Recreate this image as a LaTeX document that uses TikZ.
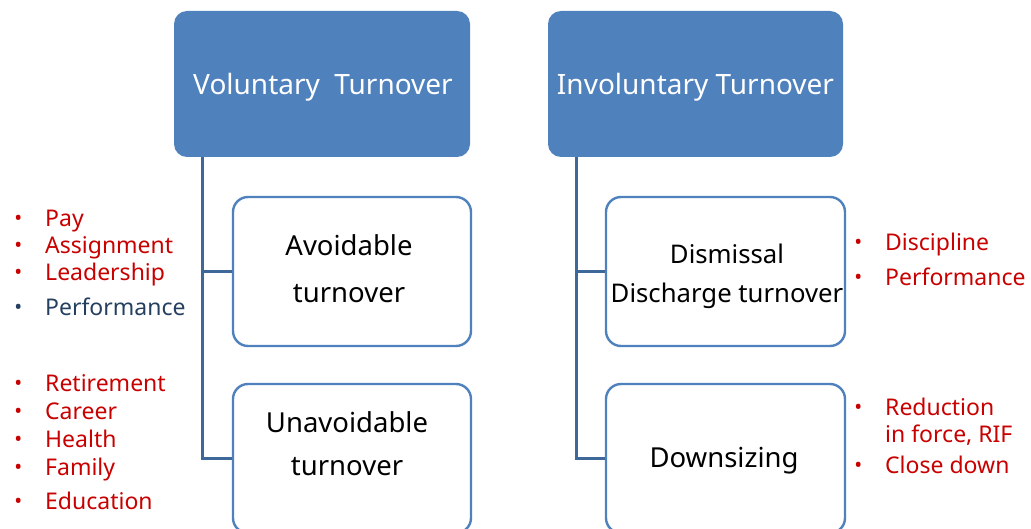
\documentclass[tikz,border=0pt]{standalone}
\usepackage{fontspec}
\setmainfont{Noto Sans}
\definecolor{hdrblue}{HTML}{4F81BD}
\definecolor{linkblue}{HTML}{3F689A}
\definecolor{itemred}{HTML}{C80000}
\definecolor{itemnavy}{HTML}{243F60}
\tikzset{
  hdrbox/.style={fill=hdrblue, draw=none, rounded corners=13pt, inner sep=0pt},
  hdrtext/.style={text=white, font=\fontsize{28}{32}\selectfont, inner sep=0pt},
  subbox/.style={fill=white, draw=hdrblue, line width=2.4pt, rounded corners=15pt, inner sep=0pt},
  subtext/.style={text=black, align=center, inner sep=0pt},
  link/.style={draw=linkblue, line width=2.8pt},
  itemtext/.style={anchor=mid west, inner sep=0pt, font=\fontsize{23}{27}\selectfont},
  reditem/.style={itemtext, text=itemred},
  navyitem/.style={itemtext, text=itemnavy},
}
\newcommand{\bul}{\llap{{\fontsize{21}{21}\selectfont\raisebox{0.1ex}{•}}\hspace{23pt}}}
\begin{document}
\begin{tikzpicture}[x=1pt, y=-1pt]
  \useasboundingbox (0,0) rectangle (1031,529);
  \clip (0,0) rectangle (1031,529);

  % top-level categories
  \node[hdrbox, minimum width=296pt, minimum height=146pt] (vol) at (322,84) {};
  \node[hdrtext] (voltxt) at (323,87) {Voluntary\ \ Turnover};
  \node[hdrbox, minimum width=295pt, minimum height=146pt] (invol) at (695.5,84) {};
  \node[hdrtext] (involtxt) at (695.5,87) {Involuntary Turnover};

  % sub-categories
  \node[subbox, minimum width=238pt, minimum height=149pt] (avoid) at (352,271.5) {};
  \node[subbox, minimum width=238pt, minimum height=149pt] (unavoid) at (352,458.5) {};
  \node[subbox, minimum width=239pt, minimum height=149pt] (dismiss) at (725.5,271.5) {};
  \node[subbox, minimum width=239pt, minimum height=149pt] (downs) at (725.5,458.5) {};

  \node[subtext, font=\fontsize{27.5}{47}\selectfont] (avoidtxt) at (349,269) {Avoidable\\turnover};
  \node[subtext, font=\fontsize{27.5}{43}\selectfont] (unavoidtxt) at (347,444) {Unavoidable\\turnover};
  \node[subtext, font=\fontsize{25.7}{39}\selectfont] (dismisstxt) at (727,276) {Dismissal\\Discharge turnover};
  \node[subtext, font=\fontsize{27.5}{32}\selectfont] (downstxt) at (724,461) {Downsizing};

  % tree connectors
  \draw[link] ([xshift=29pt]vol.south west) |- (avoid.west);
  \draw[link] ([xshift=29pt]vol.south west) |- (unavoid.west);
  \draw[link] ([xshift=29pt]invol.south west) |- (dismiss.west);
  \draw[link] ([xshift=29pt]invol.south west) |- (downs.west);

  % voluntary reasons
  \node[reditem] (pay) at (45,224) {\bul Pay};
  \node[reditem] (assign) at (45,251) {\bul Assignment};
  \node[reditem] (lead) at (45,278) {\bul Leadership};
  \node[navyitem] (perf) at (45,313) {\bul Performance};
  \node[reditem] (retire) at (45,389) {\bul Retirement};
  \node[reditem] (career) at (45,417) {\bul Career};
  \node[reditem] (health) at (45,445) {\bul Health};
  \node[reditem] (family) at (45,473) {\bul Family};
  \node[reditem] (edu) at (45,507) {\bul Education};

  % involuntary reasons
  \node[reditem] (disc) at (885,248) {\bul Discipline};
  \node[reditem] (rperf) at (885,283) {\bul Performance};
  \node[reditem] (rif1) at (885,413) {\bul Reduction};
  \node[reditem] (rif2) at (885,440) {in force, RIF};
  \node[reditem] (close) at (885,471) {\bul Close down};
\end{tikzpicture}
\end{document}
